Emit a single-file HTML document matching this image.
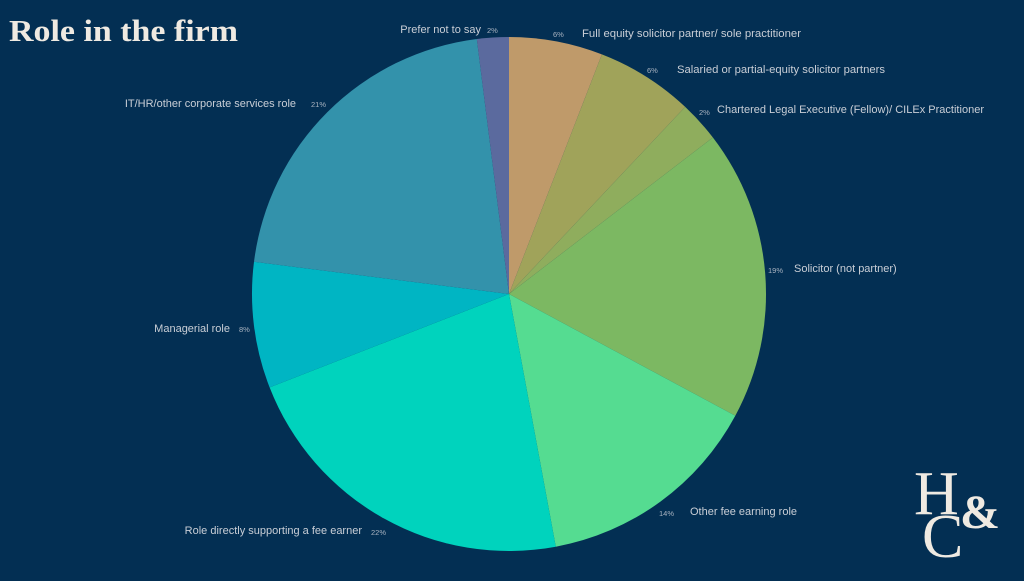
<!DOCTYPE html>
<html><head><style>
body{margin:0;width:1024px;height:576px;background:#032f53;overflow:hidden;font-family:"Liberation Sans",sans-serif}
</style></head><body>
<svg width="1024" height="576" xmlns="http://www.w3.org/2000/svg">
<rect width="1024" height="576" fill="#032f53"/>
<text x="9" y="41" font-family="Liberation Serif,serif" font-size="31" fill="#efeae2" font-weight="bold" textLength="229" lengthAdjust="spacingAndGlyphs">Role in the firm</text>
<g stroke="none">
<path d="M509,294 L509,37 A257,257 0 0 1 601.9,54.4Z" fill="#bf9a6a"/>
<path d="M509,294 L601.9,54.4 A257,257 0 0 1 685.2,106.9Z" fill="#a0a35a"/>
<path d="M509,294 L685.2,106.9 A257,257 0 0 1 712.9,137.5Z" fill="#8fad5d"/>
<path d="M509,294 L712.9,137.5 A257,257 0 0 1 735.3,415.8Z" fill="#7cb862"/>
<path d="M509,294 L735.3,415.8 A257,257 0 0 1 555.8,546.7Z" fill="#55dc91"/>
<path d="M509,294 L555.8,546.7 A257,257 0 0 1 269.6,387.4Z" fill="#00d3bd"/>
<path d="M509,294 L269.6,387.4 A257,257 0 0 1 254,261.8Z" fill="#00b5c3"/>
<path d="M509,294 L254,261.8 A257,257 0 0 1 476.8,39Z" fill="#3392ab"/>
<path d="M509,294 L476.8,39 A257,257 0 0 1 509,37Z" fill="#5b6a9e"/>
</g>
<g font-size="11" fill="#c9ced6">
<text x="481" y="33" text-anchor="end">Prefer not to say</text>
<text x="582" y="37" textLength="219" lengthAdjust="spacingAndGlyphs">Full equity solicitor partner/ sole practitioner</text>
<text x="677" y="73" textLength="208" lengthAdjust="spacingAndGlyphs">Salaried or partial-equity solicitor partners</text>
<text x="717" y="113" textLength="267" lengthAdjust="spacingAndGlyphs">Chartered Legal Executive (Fellow)/ CILEx Practitioner</text>
<text x="794" y="272">Solicitor (not partner)</text>
<text x="690" y="515">Other fee earning role</text>
<text x="362" y="534" text-anchor="end">Role directly supporting a fee earner</text>
<text x="230" y="332" text-anchor="end">Managerial role</text>
<text x="296" y="107" text-anchor="end">IT/HR/other corporate services role</text>
</g>
<g font-size="7.5" fill="#a9b3c0">
<text x="487" y="33">2%</text>
<text x="553" y="37">6%</text>
<text x="647" y="73">6%</text>
<text x="699" y="115">2%</text>
<text x="768" y="273">19%</text>
<text x="659" y="516">14%</text>
<text x="371" y="535">22%</text>
<text x="239" y="332">8%</text>
<text x="311" y="107">21%</text>
</g>
<g font-family="Liberation Serif,serif" fill="#efeae2">
<text x="914" y="514" font-size="62">H</text>
<text x="960" y="528" font-size="48" font-weight="bold">&amp;</text>
<text x="922" y="557" font-size="62">C</text>
</g>
</svg>
</body></html>
